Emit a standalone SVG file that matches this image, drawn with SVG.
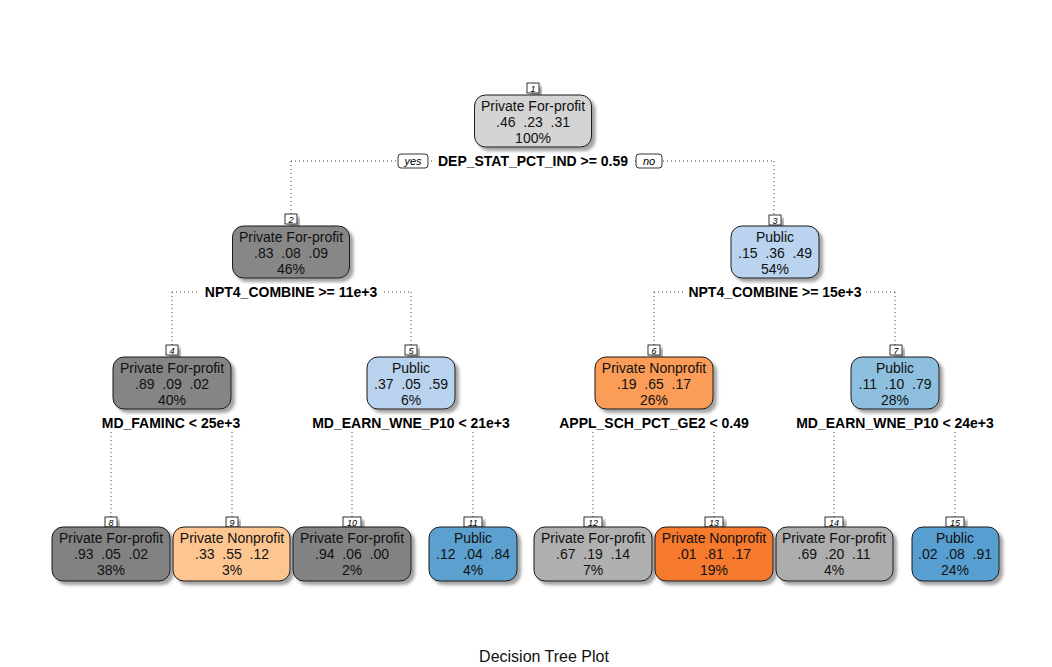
<svg xmlns="http://www.w3.org/2000/svg" width="1052" height="667" viewBox="0 0 1052 667">
<defs>
<filter id="sh" x="-10%" y="-10%" width="130%" height="140%">
<feDropShadow dx="3.5" dy="3.5" stdDeviation="1.4" flood-color="#555" flood-opacity="0.55"/>
</filter>
</defs>
<style>
.box{stroke:#1a1a1a;stroke-width:1}
.t{font-family:"Liberation Sans",Arial,sans-serif;font-size:14px;text-anchor:middle;fill:#111}
.s{font-family:"Liberation Sans",Arial,sans-serif;font-size:14px;font-weight:bold;text-anchor:middle;fill:#000}
.num{font-family:"Liberation Sans",Arial,sans-serif;font-size:9px;font-style:italic;text-anchor:middle;fill:#000}
.yn{font-family:"Liberation Sans",Arial,sans-serif;font-size:11px;font-style:italic;text-anchor:middle;fill:#000}
.lb{fill:#fff;stroke:#000;stroke-width:0.8}
.bg{fill:#fff}
.c{stroke:#444;stroke-width:1;stroke-dasharray:1 3;fill:none}
</style>
<rect width="1052" height="667" fill="#fff"/>
<g id="connectors">
<path class="c" d="M291,161 H774 M291,161 V214 M774,161 V215"/>
<path class="c" d="M172,292 H411 M172,292 V345 M411,292 V345"/>
<path class="c" d="M654,292 H895 M654,292 V345 M895,292 V345"/>
<path class="c" d="M111,432 V517 M232,432 V517 M352,432 V517 M473,432 V517 M593,432 V517 M714,432 V517 M834,432 V517 M955,432 V517"/>
</g>
<g id="node1">
<rect class="lb" x="527" y="83" width="12" height="10" filter="url(#sh)"/>
<text class="num" x="533" y="91.5">1</text>
<rect class="box" x="474.5" y="95" width="117" height="52" rx="11" fill="#d4d4d4" filter="url(#sh)"/>
<text class="t" x="533" y="111">Private For-profit</text>
<text class="t" x="533" y="127" xml:space="preserve">.46  .23  .31</text>
<text class="t" x="533" y="143">100%</text>
<rect class="bg" x="432" y="153" width="202" height="16"/>
<text class="s" x="533" y="166">DEP_STAT_PCT_IND &gt;= 0.59</text>
<rect class="lb" x="398" y="154" width="30" height="14" rx="3"/>
<text class="yn" x="413" y="165">yes</text>
<rect class="lb" x="636" y="154" width="26" height="14" rx="3"/>
<text class="yn" x="649" y="165">no</text>
</g>
<g id="node2">
<rect class="lb" x="285" y="214" width="12" height="10" filter="url(#sh)"/>
<text class="num" x="291" y="222.5">2</text>
<rect class="box" x="232.5" y="226" width="117" height="52" rx="11" fill="#878787" filter="url(#sh)"/>
<text class="t" x="291" y="242">Private For-profit</text>
<text class="t" x="291" y="258" xml:space="preserve">.83  .08  .09</text>
<text class="t" x="291" y="274">46%</text>
<rect class="bg" x="200" y="284" width="182" height="16"/>
<text class="s" x="291" y="297">NPT4_COMBINE &gt;= 11e+3</text>
</g>
<g id="node3">
<rect class="lb" x="769" y="215" width="12" height="10" filter="url(#sh)"/>
<text class="num" x="775" y="223.5">3</text>
<rect class="box" x="731" y="226" width="88" height="52" rx="11" fill="#bad3ee" filter="url(#sh)"/>
<text class="t" x="775" y="242">Public</text>
<text class="t" x="775" y="258" xml:space="preserve">.15  .36  .49</text>
<text class="t" x="775" y="274">54%</text>
<rect class="bg" x="684" y="284" width="182" height="16"/>
<text class="s" x="775" y="297">NPT4_COMBINE &gt;= 15e+3</text>
</g>
<g id="node4">
<rect class="lb" x="166" y="345" width="12" height="10" filter="url(#sh)"/>
<text class="num" x="172" y="353.5">4</text>
<rect class="box" x="113" y="357" width="118" height="52" rx="11" fill="#858585" filter="url(#sh)"/>
<text class="t" x="172" y="373">Private For-profit</text>
<text class="t" x="172" y="389" xml:space="preserve">.89  .09  .02</text>
<text class="t" x="172" y="405">40%</text>
<text class="s" x="171" y="428">MD_FAMINC &lt; 25e+3</text>
</g>
<g id="node5">
<rect class="lb" x="405" y="345" width="12" height="10" filter="url(#sh)"/>
<text class="num" x="411" y="353.5">5</text>
<rect class="box" x="367" y="357" width="88" height="52" rx="11" fill="#b9d2ed" filter="url(#sh)"/>
<text class="t" x="411" y="373">Public</text>
<text class="t" x="411" y="389" xml:space="preserve">.37  .05  .59</text>
<text class="t" x="411" y="405">6%</text>
<text class="s" x="411" y="428">MD_EARN_WNE_P10 &lt; 21e+3</text>
</g>
<g id="node6">
<rect class="lb" x="648" y="345" width="12" height="10" filter="url(#sh)"/>
<text class="num" x="654" y="353.5">6</text>
<rect class="box" x="595" y="357" width="118" height="52" rx="11" fill="#fb9d58" filter="url(#sh)"/>
<text class="t" x="654" y="373">Private Nonprofit</text>
<text class="t" x="654" y="389" xml:space="preserve">.19  .65  .17</text>
<text class="t" x="654" y="405">26%</text>
<text class="s" x="654" y="428">APPL_SCH_PCT_GE2 &lt; 0.49</text>
</g>
<g id="node7">
<rect class="lb" x="890" y="345" width="12" height="10" filter="url(#sh)"/>
<text class="num" x="896" y="353.5">7</text>
<rect class="box" x="851" y="357" width="88" height="52" rx="11" fill="#8ebfdf" filter="url(#sh)"/>
<text class="t" x="895" y="373">Public</text>
<text class="t" x="895" y="389" xml:space="preserve">.11  .10  .79</text>
<text class="t" x="895" y="405">28%</text>
<text class="s" x="895" y="428">MD_EARN_WNE_P10 &lt; 24e+3</text>
</g>
<g id="node8">
<rect class="lb" x="105" y="517" width="12" height="10" filter="url(#sh)"/>
<text class="num" x="111" y="525.5">8</text>
<rect class="box" x="52" y="527" width="118" height="54" rx="11" fill="#828282" filter="url(#sh)"/>
<text class="t" x="111" y="543">Private For-profit</text>
<text class="t" x="111" y="559" xml:space="preserve">.93  .05  .02</text>
<text class="t" x="111" y="575">38%</text>
</g>
<g id="node9">
<rect class="lb" x="226" y="517" width="12" height="10" filter="url(#sh)"/>
<text class="num" x="232" y="525.5">9</text>
<rect class="box" x="173" y="527" width="117" height="54" rx="11" fill="#fdc691" filter="url(#sh)"/>
<text class="t" x="232" y="543">Private Nonprofit</text>
<text class="t" x="232" y="559" xml:space="preserve">.33  .55  .12</text>
<text class="t" x="232" y="575">3%</text>
</g>
<g id="node10">
<rect class="lb" x="343" y="517" width="18" height="10" filter="url(#sh)"/>
<text class="num" x="352" y="525.5">10</text>
<rect class="box" x="293" y="527" width="118" height="54" rx="11" fill="#838383" filter="url(#sh)"/>
<text class="t" x="352" y="543">Private For-profit</text>
<text class="t" x="352" y="559" xml:space="preserve">.94  .06  .00</text>
<text class="t" x="352" y="575">2%</text>
</g>
<g id="node11">
<rect class="lb" x="464" y="517" width="18" height="10" filter="url(#sh)"/>
<text class="num" x="473" y="525.5">11</text>
<rect class="box" x="429" y="527" width="88" height="54" rx="11" fill="#5ca0d0" filter="url(#sh)"/>
<text class="t" x="473" y="543">Public</text>
<text class="t" x="473" y="559" xml:space="preserve">.12  .04  .84</text>
<text class="t" x="473" y="575">4%</text>
</g>
<g id="node12">
<rect class="lb" x="584" y="517" width="18" height="10" filter="url(#sh)"/>
<text class="num" x="593" y="525.5">12</text>
<rect class="box" x="534" y="527" width="118" height="54" rx="11" fill="#b0b0b0" filter="url(#sh)"/>
<text class="t" x="593" y="543">Private For-profit</text>
<text class="t" x="593" y="559" xml:space="preserve">.67  .19  .14</text>
<text class="t" x="593" y="575">7%</text>
</g>
<g id="node13">
<rect class="lb" x="705" y="517" width="18" height="10" filter="url(#sh)"/>
<text class="num" x="714" y="525.5">13</text>
<rect class="box" x="655" y="527" width="118" height="54" rx="11" fill="#f67a2e" filter="url(#sh)"/>
<text class="t" x="714" y="543">Private Nonprofit</text>
<text class="t" x="714" y="559" xml:space="preserve">.01  .81  .17</text>
<text class="t" x="714" y="575">19%</text>
</g>
<g id="node14">
<rect class="lb" x="825" y="517" width="18" height="10" filter="url(#sh)"/>
<text class="num" x="834" y="525.5">14</text>
<rect class="box" x="776" y="527" width="117" height="54" rx="11" fill="#adadad" filter="url(#sh)"/>
<text class="t" x="834" y="543">Private For-profit</text>
<text class="t" x="834" y="559" xml:space="preserve">.69  .20  .11</text>
<text class="t" x="834" y="575">4%</text>
</g>
<g id="node15">
<rect class="lb" x="946" y="517" width="18" height="10" filter="url(#sh)"/>
<text class="num" x="955" y="525.5">15</text>
<rect class="box" x="912" y="527" width="87" height="54" rx="11" fill="#599fd1" filter="url(#sh)"/>
<text class="t" x="955" y="543">Public</text>
<text class="t" x="955" y="559" xml:space="preserve">.02  .08  .91</text>
<text class="t" x="955" y="575">24%</text>
</g>
<text x="544" y="662" font-family="Liberation Sans, Arial, sans-serif" font-size="16" text-anchor="middle" fill="#111">Decision Tree Plot</text>
</svg>
